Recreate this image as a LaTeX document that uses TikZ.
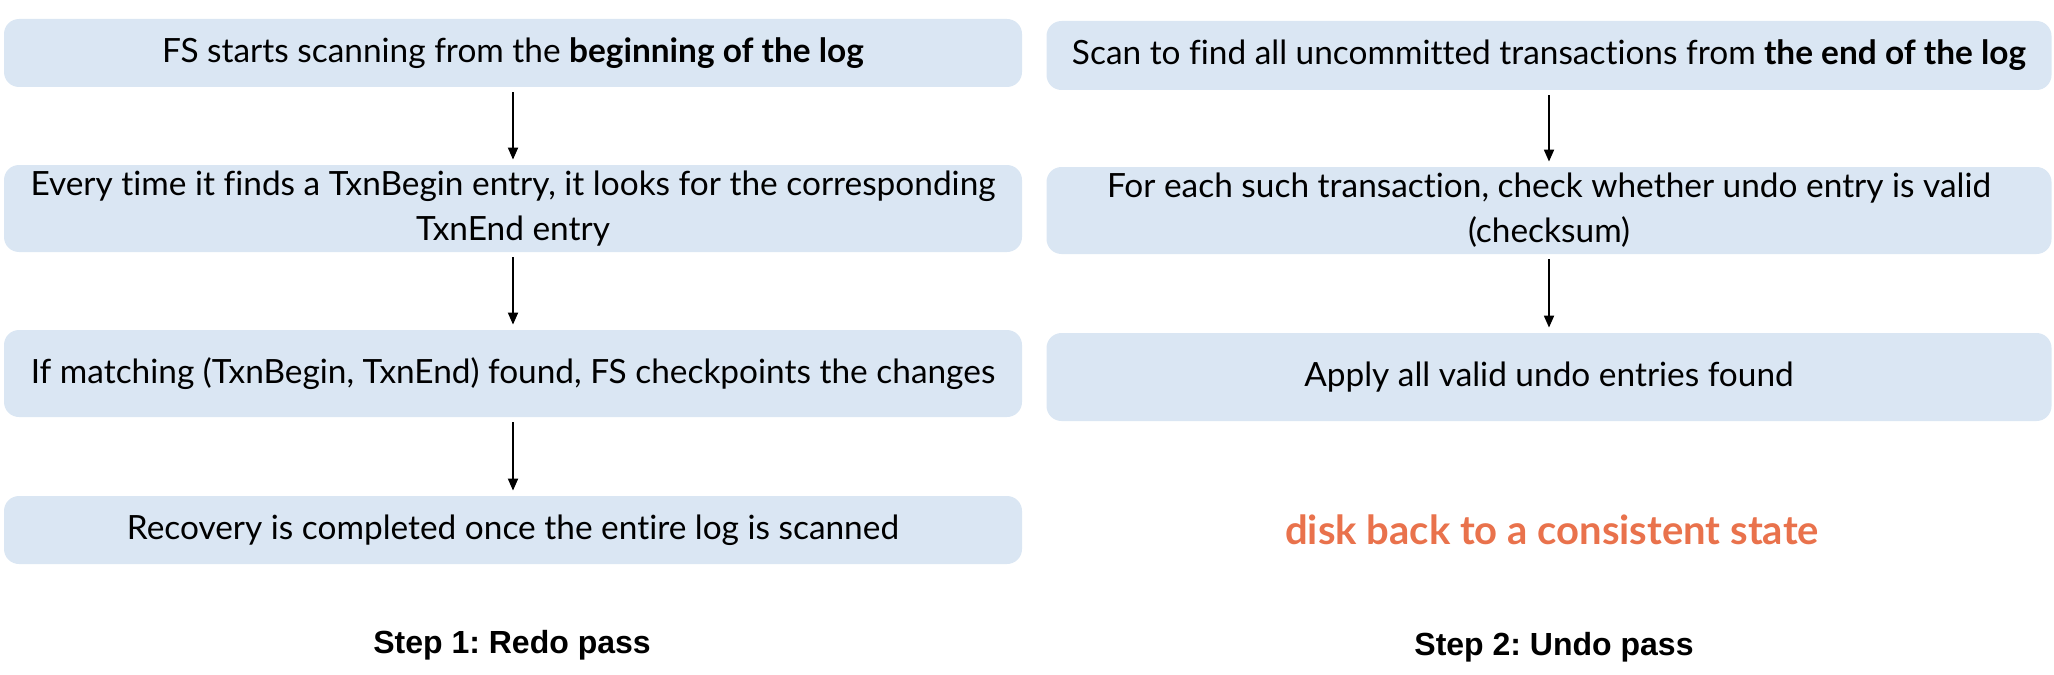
\documentclass[tikz,border=0pt]{standalone}
\usepackage{fontspec}
\setmainfont{Lato}[Ligatures=NoCommon]
\newfontfamily\arialfont{Liberation Sans}
\usetikzlibrary{arrows.meta}
\definecolor{boxfill}{HTML}{DAE6F3}
\definecolor{orangetxt}{HTML}{E9724C}
\frenchspacing
\begin{document}
\begin{tikzpicture}[x=0.5pt,y=-0.5pt,
  stepbox/.style={fill=boxfill, draw=none, rounded corners=7.5pt, inner sep=0pt,
    align=center, font=\fontsize{16.7}{22.5}\selectfont},
  flowarrow/.style={-{Triangle[width=5pt,length=6pt]}, line width=0.9pt, black,
    shorten <=2.5pt, shorten >=2.5pt},
  passlabel/.style={font=\arialfont\bfseries\fontsize{16}{19}\selectfont},
  resultlabel/.style={font=\bfseries\fontsize{20}{24}\selectfont, text=orangetxt}
]
\useasboundingbox (0,0) rectangle (2054,674);
% left column
\node[stepbox, minimum width=509pt, minimum height=34pt] (L1) at (513,53)
  {FS starts scanning from the \textbf{beginning of the log}};
\node[stepbox, minimum width=509pt, minimum height=43.5pt] (L2) at (513,208.5)
  {Every time it finds a TxnBegin entry, it looks for the corresponding\\TxnEnd entry};
\node[stepbox, minimum width=509pt, minimum height=43.5pt] (L3) at (513,373.5)
  {If matching (TxnBegin, TxnEnd) found, FS checkpoints the changes};
\node[stepbox, minimum width=509pt, minimum height=34pt] (L4) at (513,530)
  {Recovery is completed once the entire log is scanned};
% right column
\node[stepbox, minimum width=502.5pt, minimum height=34.5pt] (R1) at (1549,55.5)
  {Scan to find all uncommitted transactions from \textbf{the end of the log}};
\node[stepbox, minimum width=502.5pt, minimum height=43.5pt] (R2) at (1549,210.5)
  {For each such transaction, check whether undo entry is valid\\(checksum)};
\node[stepbox, minimum width=502.5pt, minimum height=44pt] (R3) at (1549,377)
  {Apply all valid undo entries found};
% arrows
\draw[flowarrow] (L1) -- (L2);
\draw[flowarrow] (L2) -- (L3);
\draw[flowarrow] (L3) -- (L4);
\draw[flowarrow] (R1) -- (R2);
\draw[flowarrow] (R2) -- (R3);
% labels
\node[resultlabel] (res) at (1552,530) {disk back to a consistent state};
\node[passlabel] (s1) at (512,645) {Step 1: Redo pass};
\node[passlabel] (s2) at (1554,647) {Step 2: Undo pass};
\end{tikzpicture}
\end{document}
